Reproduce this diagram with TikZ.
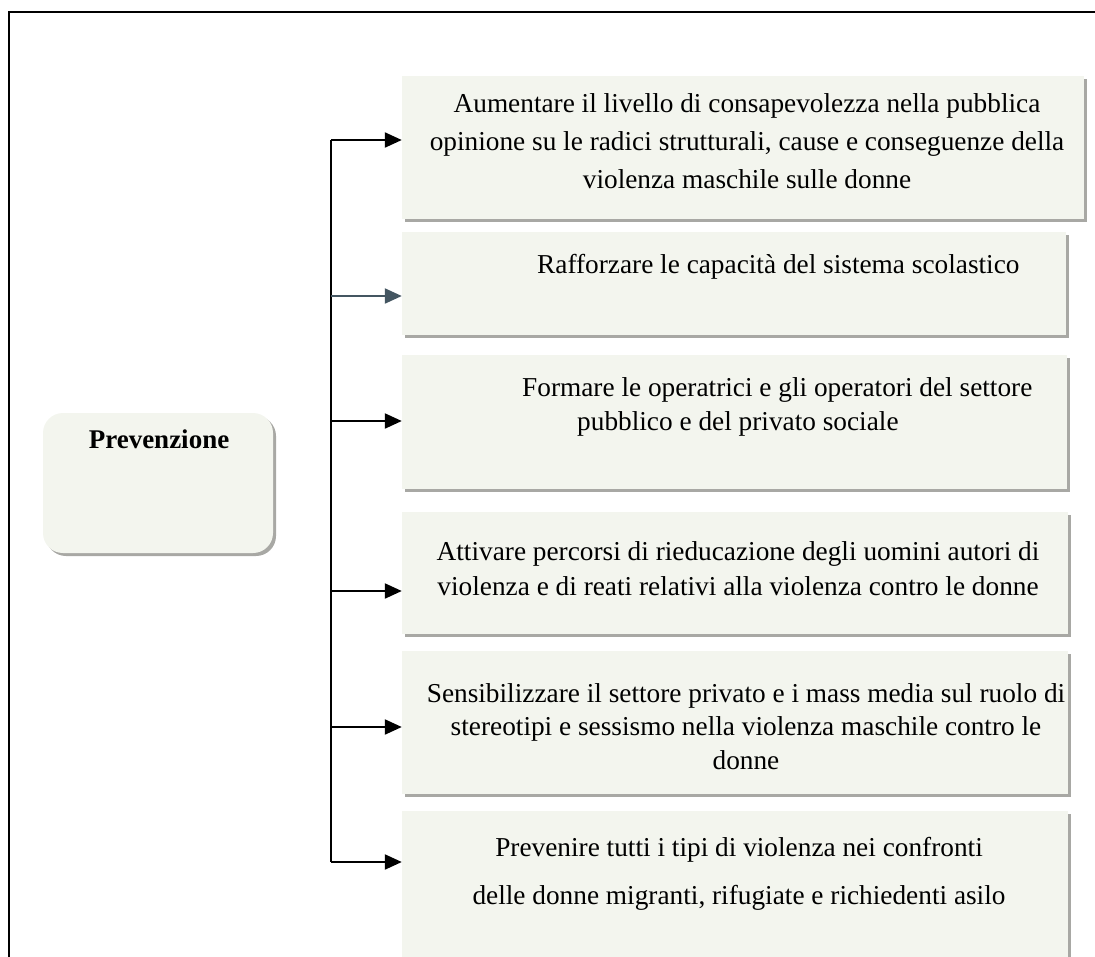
\documentclass[tikz,border=0pt]{standalone}
\usepackage{fontspec}
\setmainfont{Liberation Serif}
\usetikzlibrary{arrows.meta,shadows}
\definecolor{boxfill}{HTML}{F3F5EE}
\definecolor{shadowgray}{HTML}{A8A8A4}
\definecolor{slatearrow}{HTML}{445661}
\begin{document}
\begin{tikzpicture}[x=1pt,y=-1pt,
  box/.style={draw=none,fill=boxfill,rectangle,inner sep=0pt,
    drop shadow={shadow xshift=3pt,shadow yshift=-3pt,fill=shadowgray,opacity=1}},
  rbox/.style={box,rounded corners=20pt},
  txt/.style={inner sep=0pt,font=\fontsize{27.3}{38}\selectfont},
  arr/.style={line width=2.2pt,-{Triangle[length=17pt,width=15pt]}},
  trunk/.style={line width=2.2pt}]
\useasboundingbox (0,0) rectangle (1095,956);
\clip (0,0) rectangle (1095,956);
% frame
\draw[line width=1.6pt] (9,980) -- (9,12) -- (1100,12);
% boxes
\node[rbox,minimum width=230pt,minimum height=140pt] (prev) at (158,483) {};
\node[txt,font=\fontsize{27}{38}\selectfont\bfseries] (prevt) at (159,439) {Prevenzione};
\node[box,minimum width=682pt,minimum height=143pt] (b1) at (743,147.5) {};
\node[box,minimum width=664pt,minimum height=103pt] (b2) at (734,283.5) {};
\node[box,minimum width=665pt,minimum height=134pt] (b3) at (734.5,422) {};
\node[box,minimum width=666pt,minimum height=122pt] (b4) at (735,573) {};
\node[box,minimum width=666pt,minimum height=143pt] (b5) at (735,722.5) {};
\node[box,minimum width=666pt,minimum height=164pt] (b6) at (735,893) {};
% texts
\node[txt,align=center] (t1) at (747,141) {Aumentare il livello di consapevolezza nella pubblica\\opinione su le radici strutturali, cause e conseguenze della\\violenza maschile sulle donne};
\node[txt,anchor=west] (t2) at (537,267) {Rafforzare le capacità del sistema scolastico};
\node[txt,align=left,anchor=west,font=\fontsize{27.3}{34}\selectfont] (t3) at (522,407) {Formare le operatrici e gli operatori del settore\\\hspace*{55pt}pubblico e del privato sociale};
\node[txt,align=center,font=\fontsize{27.3}{35}\selectfont] (t4) at (738,568.5) {Attivare percorsi di rieducazione degli uomini autori di\\violenza e di reati relativi alla violenza contro le donne};
\node[txt,align=center,font=\fontsize{27.3}{33.5}\selectfont] (t5) at (746,726.5) {Sensibilizzare il settore privato e i mass media sul ruolo di\\stereotipi e sessismo nella violenza maschile contro le\\donne};
\node[txt,align=center,font=\fontsize{27.3}{48}\selectfont] (t6) at (739,874) {Prevenire tutti i tipi di violenza nei confronti\\delle donne migranti, rifugiate e richiedenti asilo};
% trunk and connectors
\coordinate (j1) at (331,140);
\coordinate (j2) at (331,296);
\coordinate (j3) at (331,421);
\coordinate (j4) at (331,591);
\coordinate (j5) at (331,727);
\coordinate (j6) at (331,862);
\draw[trunk] (j1) -- (j6);
\draw[arr] (j1) -- (j1 -| b1.west);
\draw[arr,draw=slatearrow,fill=slatearrow] (j2) -- (j2 -| b2.west);
\draw[arr] (j3) -- (j3 -| b3.west);
\draw[arr] (j4) -- (j4 -| b4.west);
\draw[arr] (j5) -- (j5 -| b5.west);
\draw[arr] (j6) -- (j6 -| b6.west);
\end{tikzpicture}
\end{document}
